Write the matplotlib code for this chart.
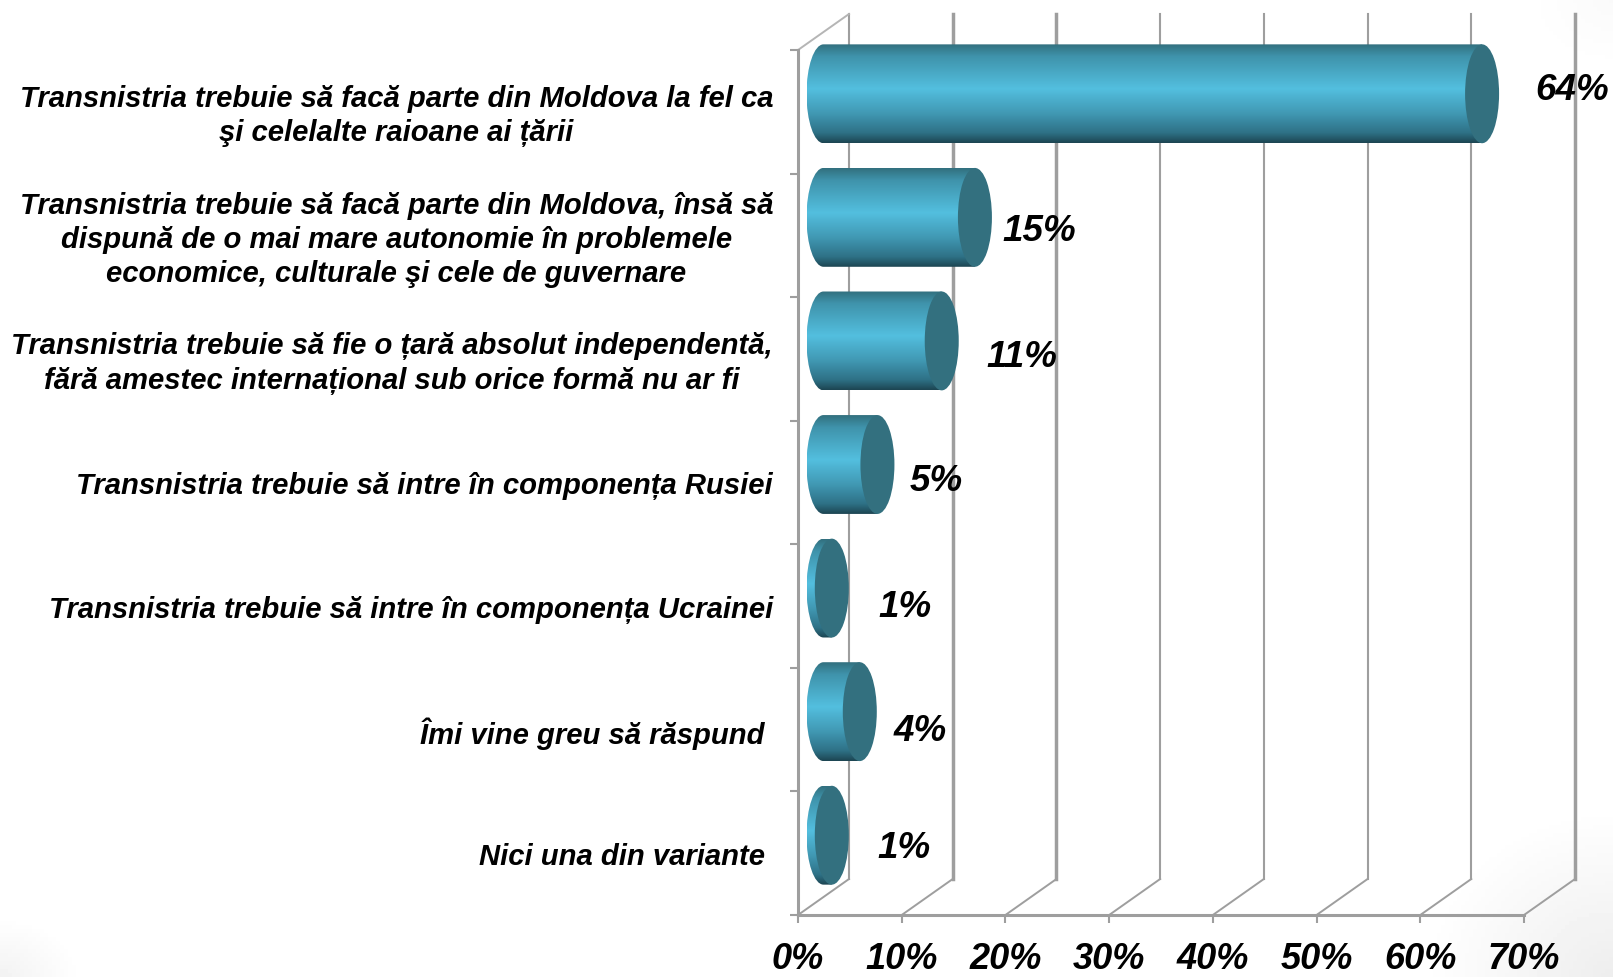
import numpy as np
import matplotlib
matplotlib.use("Agg")
import matplotlib.pyplot as plt
from matplotlib.colors import LinearSegmentedColormap
from matplotlib.patches import Ellipse, PathPatch
from matplotlib.path import Path
from matplotlib.transforms import ScaledTranslation

plt.rcParams['font.family'] = ['Liberation Sans', 'DejaVu Sans']

categorias = [
    "Transnistria trebuie să facă parte din Moldova la fel ca\nşi celelalte raioane ai țării",
    "Transnistria trebuie să facă parte din Moldova, însă să\ndispună de o mai mare autonomie în problemele\neconomice, culturale şi cele de guvernare",
    "Transnistria trebuie să fie o țară absolut independentă,\nfără amestec internațional sub orice formă nu ar fi",
    "Transnistria trebuie să intre în componența Rusiei",
    "Transnistria trebuie să intre în componența Ucrainei",
    "Îmi vine greu să răspund ",
    "Nici una din variante ",
]
valores = [63.5, 14.6, 11.4, 5.2, 0.8, 3.5, 0.8]
rotulos = ["64%", "15%", "11%", "5%", "1%", "4%", "1%"]
ticks_x = [0, 10, 20, 30, 40, 50, 60, 70]

W, H = 1613, 978
X0, X70, Y_TOPO, Y_BASE = 798, 1524, 51, 916

CINZA = '#9e9e9e'
ESCURO = '#33707f'
prof_x = 51 / ((X70 - X0) / 70)   # profundidade 3D em unidades de %
prof_y = 36 / ((Y_BASE - Y_TOPO) / 7)   # idem em categorias
raio_x = 17 / ((X70 - X0) / 70)
alt_barra = 0.80

# ajuste manual (px) dos rotulos em relacao ao topo da barra
ajuste_rot = [(90, -4), (64, 13), (80, 16), (59, 16), (73, 18), (60, 19), (72, 12)]
larg_parede = [1.5, 2.5, 2.5, 1.5, 1.5, 1.5, 1.5, 2.5]

fig = plt.figure(figsize=(W / 100, H / 100), dpi=100, facecolor='white')

# fundo quase branco com cantos levemente cinza
fundo = fig.add_axes([0, 0, 1, 1], zorder=0)
yy, xx = np.mgrid[0:H:4, 0:W:4]
canto1 = np.clip(1 - np.hypot(xx / 80, (H - yy) / 60), 0, 1) * 0.05
canto2 = np.clip(1 - np.hypot((W - xx) / 90, yy / 70), 0, 1) * 0.02
canto3 = np.clip(1 - np.hypot((W - xx) / 190, (H - yy) / 170), 0, 1) * 0.07
fundo.imshow(1 - canto1 - canto2 - canto3, cmap='gray', vmin=0, vmax=1, aspect='auto')
fundo.axis('off')

ax = fig.add_axes([X0 / W, 1 - Y_BASE / H, (X70 - X0) / W, (Y_BASE - Y_TOPO) / H], zorder=1)
ax.patch.set_alpha(0)
ax.set_xlim(0, 70)
ax.set_ylim(7, 0)

# paredes de fundo e chao
for t, lw in zip(ticks_x, larg_parede):
    ax.plot([t + prof_x, t + prof_x], [-prof_y, 7 - prof_y], color=CINZA, lw=lw, clip_on=False, zorder=1)
    ax.plot([t, t + prof_x], [7, 7 - prof_y], color=CINZA, lw=1.4, clip_on=False, zorder=1)
ax.plot([0, prof_x], [0, -prof_y], color='#b5b5b5', lw=1.4, clip_on=False, zorder=1)

gradiente = LinearSegmentedColormap.from_list('cil', [
    (0.0, '#32707f'), (0.12, '#3f93ab'), (0.45, '#53bfdf'),
    (0.70, '#4199b4'), (0.90, '#2e7186'), (1.0, '#1d4653')])

for i, v in enumerate(valores):
    yc = i + 0.5 - prof_y / 2
    x_ini = prof_x / 2
    x_fim = prof_x / 2 + v
    h = alt_barra / 2
    k = 0.5523
    verts = [(x_ini, yc - h),
             (x_ini - k * raio_x, yc - h), (x_ini - raio_x, yc - k * h), (x_ini - raio_x, yc),
             (x_ini - raio_x, yc + k * h), (x_ini - k * raio_x, yc + h), (x_ini, yc + h),
             (x_fim, yc + h), (x_fim, yc - h), (x_ini, yc - h)]
    codes = [Path.MOVETO] + [Path.CURVE4] * 6 + [Path.LINETO] * 2 + [Path.CLOSEPOLY]
    corpo = PathPatch(Path(verts, codes), fc='none', ec='none', transform=ax.transData, clip_on=False)
    ax.add_patch(corpo)
    img = ax.imshow(np.linspace(0, 1, 128).reshape(-1, 1), cmap=gradiente, aspect='auto',
                    extent=[x_ini - raio_x, x_fim, yc + h, yc - h], zorder=3)
    img.set_clip_path(corpo)
    img.set_clip_box(fig.bbox)  # a primeira barra passa um pouco do topo do eixo
    ax.add_patch(Ellipse((x_fim, yc), 2 * raio_x, alt_barra, fc=ESCURO, ec='none', zorder=4, clip_on=False))
    ax.annotate(rotulos[i], xy=(x_fim, yc), xytext=(ajuste_rot[i][0] * 0.72, -ajuste_rot[i][1] * 0.72),
                textcoords='offset points', ha='center', va='center', fontsize=26.5,
                fontweight='bold', fontstyle='italic', color='black', zorder=6, annotation_clip=False)

ax.set_xlim(0, 70)
ax.set_ylim(7, 0)

# eixos
for lado in ['top', 'right']:
    ax.spines[lado].set_visible(False)
for lado in ['left', 'bottom']:
    ax.spines[lado].set_color(CINZA)
    ax.spines[lado].set_linewidth(2.2)
    ax.spines[lado].set_zorder(2)

ax.set_xticks(ticks_x)
ax.set_xticklabels([f"{t}%" for t in ticks_x], fontsize=26, fontweight='bold', fontstyle='italic')
ax.tick_params(axis='x', length=6, width=1.5, color=CINZA, pad=12.5)

ax.set_yticks(np.arange(len(categorias)) + 0.5)
ax.set_yticklabels(categorias, fontsize=21.1, fontweight='bold', fontstyle='italic',
                   multialignment='center', linespacing=1.28)
ax.set_yticks(np.arange(len(categorias) + 1), minor=True)
ax.tick_params(axis='y', which='major', length=0, pad=18)
ax.tick_params(axis='y', which='minor', length=6, width=1.5, color=CINZA)

# textos de varias linhas ficam um pouco acima do centro
for lab in ax.get_yticklabels():
    if "\n" in lab.get_text():
        lab.set_transform(lab.get_transform() + ScaledTranslation(0, 2.5 / 100, fig.dpi_scale_trans))

fig.savefig("out.png", dpi=100)
